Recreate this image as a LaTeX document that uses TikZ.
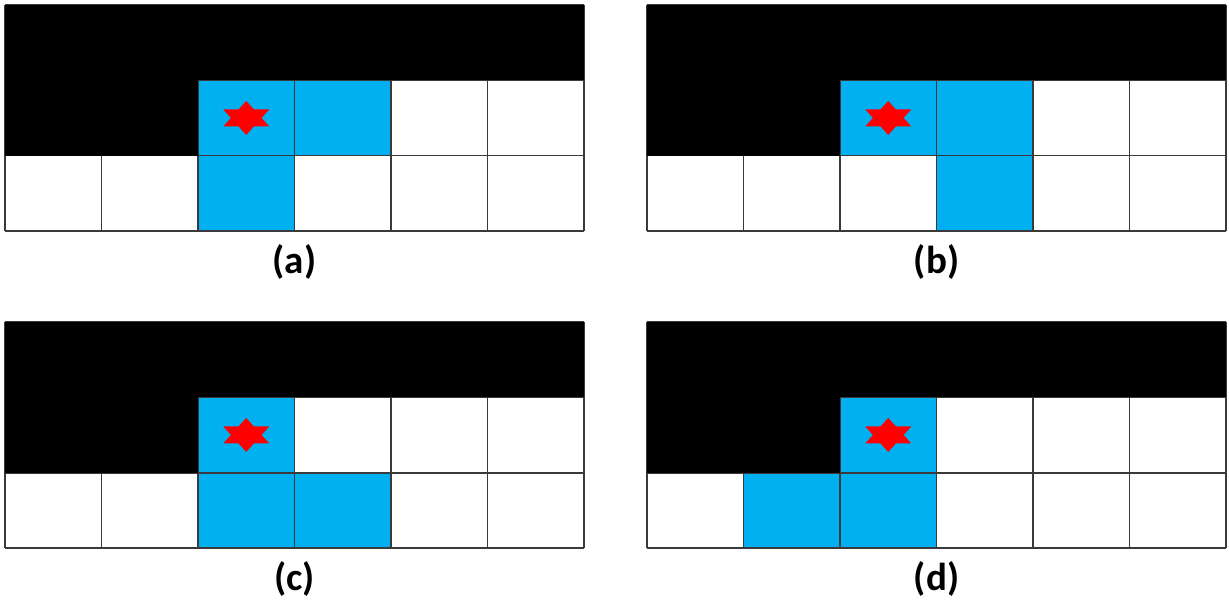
\documentclass[tikz,border=0pt]{standalone}
\usepackage{fontspec}
\setmainfont{Carlito}
\definecolor{cellblue}{HTML}{00B0F0}
\definecolor{gridgray}{HTML}{3A3A3A}
\begin{document}
\begin{tikzpicture}[x=1pt,y=-1pt,gridline/.style={draw=gridgray,line width=1.8pt},lab/.style={font=\bfseries\fontsize{39}{46}\selectfont,inner sep=0pt}]
\useasboundingbox (0,0) rectangle (1229,607);
% four panels: name / origin / blue cells (column/row)
\foreach \p/\ox/\oy/\cells in {a/5/5/{2/1,3/1,2/2},b/647/5/{2/1,3/1,3/2},c/5/322/{2/1,2/2,3/2},d/647/322/{2/1,1/2,2/2}}{
\begin{scope}[shift={(\ox,\oy)},x=96.5pt,y=-75.3pt]
\foreach \c/\r in \cells {\fill[cellblue] (\c,\r) rectangle ++(1,1);}
\foreach \i in {0,...,6}{\draw[gridline] (\i,0)--(\i,3);}
\foreach \j in {0,...,3}{\draw[gridline] (0,\j)--(6,\j);}
\fill (0,0) rectangle (6,1);\fill (0,1) rectangle (2,2);
\fill[red,shift={(2.5,1.5)},x=1pt,y=1pt] (0,17)--(23,-8.5)--(-23,-8.5)--cycle;
\fill[red,shift={(2.5,1.5)},x=1pt,y=1pt] (0,-17)--(23,8.5)--(-23,8.5)--cycle;
\end{scope}
\node[lab] (lab\p) at (\ox+289.5,\oy+256.5) {(\p)};
}
\end{tikzpicture}
\end{document}
